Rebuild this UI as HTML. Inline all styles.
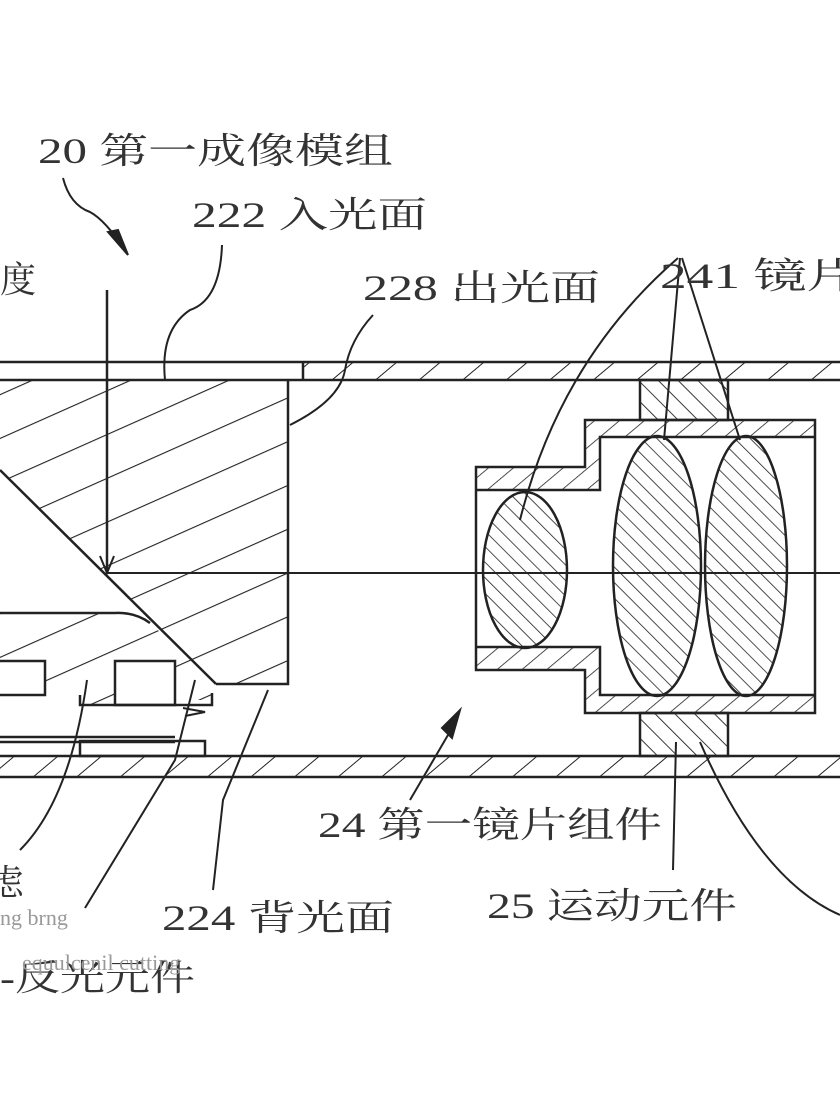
<!DOCTYPE html>
<html><head><meta charset="utf-8"><style>
html,body{margin:0;padding:0;background:#fff;}
svg{display:block;}
text{font-family:"Liberation Serif","Noto Serif CJK SC","Noto Sans CJK SC",serif;fill:#333;}
</style></head><body>
<svg width="840" height="1120" viewBox="0 0 840 1120" xmlns="http://www.w3.org/2000/svg">
<defs>
<pattern id="rail" width="28" height="28" patternUnits="userSpaceOnUse" patternTransform="rotate(50)">
<line x1="0" y1="0" x2="0" y2="28" stroke="#222" stroke-width="2"/></pattern>
<pattern id="prism" width="40" height="40" patternUnits="userSpaceOnUse" patternTransform="rotate(66)">
<line x1="0" y1="0" x2="0" y2="40" stroke="#222" stroke-width="2.2"/></pattern>
<pattern id="lens" width="11" height="11" patternUnits="userSpaceOnUse" patternTransform="rotate(-45)">
<line x1="0" y1="0" x2="0" y2="11" stroke="#222" stroke-width="1.6"/></pattern>
<pattern id="barrel" width="16" height="16" patternUnits="userSpaceOnUse" patternTransform="rotate(50)">
<line x1="0" y1="0" x2="0" y2="16" stroke="#222" stroke-width="1.6"/></pattern>
<pattern id="pillar" width="14" height="14" patternUnits="userSpaceOnUse" patternTransform="rotate(-45)">
<line x1="0" y1="0" x2="0" y2="14" stroke="#222" stroke-width="1.8"/></pattern>
</defs>
<g stroke="#222" stroke-width="2.5" fill="none">
<rect x="303" y="362" width="540" height="18" fill="url(#rail)" stroke="none"/>
<line x1="0" y1="362" x2="840" y2="362"/>
<line x1="0" y1="380" x2="840" y2="380"/>
<line x1="303" y1="362" x2="303" y2="380"/>
<rect x="0" y="756" width="840" height="21" fill="url(#rail)" stroke="none"/>
<line x1="0" y1="756" x2="840" y2="756"/>
<line x1="0" y1="777" x2="840" y2="777"/>
<polygon points="0,380 288,380 288,684 216,684 0,470" fill="url(#prism)" stroke="none"/>
<polyline points="288,380 288,684 216,684"/>
<line x1="0" y1="470" x2="216" y2="684"/>
<path d="M150,623 Q130,612 115,613 L0,613 L0,661 L45,661 L45,695 L85,695 L85,705 L115,705 L115,661 L175,661 L175,700 L212,700 L213,680 Z" fill="url(#prism)" stroke="none"/>
<path d="M0,613 L115,613 Q135,612 150,623"/>
<polyline points="0,661 45,661 45,695 0,695"/>
<rect x="115" y="661" width="60" height="44"/>
<polyline points="80,695 80,705 212,705 212,693"/>
<line x1="0" y1="737" x2="175" y2="737"/>
<line x1="0" y1="742" x2="175" y2="742"/>
<rect x="80" y="741" width="125" height="15"/>
<path d="M183,708 L205,712 L185,716" stroke-width="2"/>
<line x1="107" y1="290" x2="107" y2="573"/>
<path d="M100,556 L107,573 L114,556" stroke-width="2"/>
<line x1="107" y1="573" x2="840" y2="573" stroke-width="2"/>
<rect x="640" y="380" width="88" height="40" fill="url(#pillar)"/>
<rect x="640" y="713" width="88" height="43" fill="url(#pillar)"/>
<path d="M585,420 L815,420 L815,713 L585,713 L585,670 L476,670 L476,467 L585,467 Z M600,437 L815,437 L815,695 L600,695 L600,647 L476,647 L476,490 L600,490 Z" fill="url(#barrel)" fill-rule="evenodd"/>
<ellipse cx="525" cy="570" rx="42" ry="78" fill="url(#lens)"/>
<ellipse cx="657" cy="566" rx="44" ry="130" fill="url(#lens)"/>
<ellipse cx="746" cy="566" rx="41" ry="130" fill="url(#lens)"/>
</g>
<g stroke="#222" stroke-width="2" fill="none">
<path d="M63,178 Q70,205 90,212 Q105,220 125,250"/>
<path d="M108,232 L128,255 L118,230 Z" fill="#222"/>
<path d="M222,245 Q220,300 190,310 Q160,330 165,380"/>
<path d="M373,315 Q350,340 345,370 Q340,400 290,425"/>
<path d="M678,258 Q560,360 520,520"/>
<path d="M680,258 L664,440"/>
<path d="M682,258 L740,440"/>
<path d="M410,800 L448,735"/>
<path d="M442,728 L460,710 L452,738 Z" fill="#222"/>
<path d="M673,870 L676,742"/>
<path d="M700,742 Q760,880 840,915"/>
<path d="M213,890 L223,800 L268,690"/>
<path d="M85,908 L175,760 L195,680"/>
<path d="M20,850 Q70,800 87,680"/>
</g>
<g font-size="36">
<text x="38" y="163" textLength="355" lengthAdjust="spacingAndGlyphs">20 第一成像模组</text>
<text x="192" y="227" textLength="235" lengthAdjust="spacingAndGlyphs">222 入光面</text>
<text x="0" y="292">度</text>
<text x="363" y="300" textLength="237" lengthAdjust="spacingAndGlyphs">228 出光面</text>
<text x="660" y="288" textLength="200" lengthAdjust="spacingAndGlyphs">241 镜片</text>
<text x="318" y="837" textLength="344" lengthAdjust="spacingAndGlyphs">24 第一镜片组件</text>
<text x="487" y="918" textLength="250" lengthAdjust="spacingAndGlyphs">25 运动元件</text>
<text x="162" y="930" textLength="232" lengthAdjust="spacingAndGlyphs">224 背光面</text>
<text x="-12" y="895">虑</text>
<text x="0" y="990" textLength="195" lengthAdjust="spacingAndGlyphs">-反光元件</text>
</g>
<g font-size="22" style="font-family:'Liberation Mono',monospace">
<text x="0" y="925" style="fill:#999">ng brng</text>
<text x="22" y="970" style="fill:#999">equulcenil cutting</text>
</g>
</svg>
</body></html>
